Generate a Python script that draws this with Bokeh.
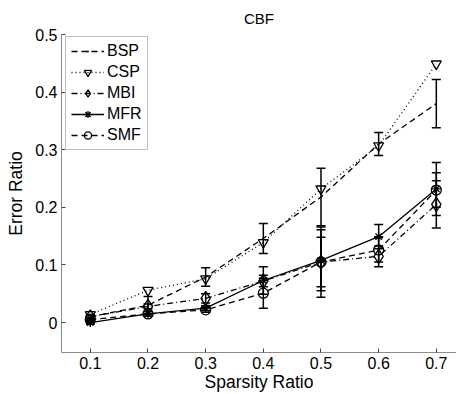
from bokeh.plotting import figure
from bokeh.models import Range1d, ColumnDataSource, Whisker, TeeHead, Legend, LegendItem, FixedTicker
from bokeh.embed import file_html
from bokeh.resources import INLINE

sparsity = [0.1, 0.2, 0.3, 0.4, 0.5, 0.6, 0.7]

bsp = [0.010, 0.030, 0.079, 0.146, 0.218, 0.310, 0.380]
csp = [0.014, 0.056, 0.076, 0.139, 0.232, 0.307, 0.449]
mbi = [0.010, 0.028, 0.042, 0.072, 0.105, 0.115, 0.205]
mfr = [0.000, 0.015, 0.025, 0.073, 0.108, 0.149, 0.232]
smf = [0.005, 0.015, 0.022, 0.051, 0.105, 0.126, 0.230]

bsp_err = [0.004, 0.015, 0.016, 0.026, 0.050, 0.020, 0.042]
csp_err = [0.0, 0.0, 0.0, 0.0, 0.0, 0.0, 0.0]
mbi_err = [0.003, 0.004, 0.008, 0.010, 0.061, 0.018, 0.041]
mfr_err = [0.003, 0.004, 0.004, 0.024, 0.053, 0.021, 0.046]
smf_err = [0.003, 0.004, 0.004, 0.026, 0.043, 0.021, 0.030]

FONT = "Liberation Sans"

p = figure(frame_width=395, frame_height=318, output_backend="svg", toolbar_location=None,
           x_range=Range1d(0.05, 0.735), y_range=Range1d(-0.052, 0.5),
           min_border_left=61, min_border_right=0, min_border_top=29, min_border_bottom=40,
           title="CBF")
p.title.align = "center"
p.title.text_font = FONT
p.title.text_font_size = "15px"
p.title.text_font_style = "normal"
p.title.text_color = "black"
p.title.standoff = 15
p.outline_line_color = None
p.xgrid.visible = False
p.ygrid.visible = False

for ax in (p.xaxis[0], p.yaxis[0]):
    ax.axis_line_color = "#8c8c8c"
    ax.major_tick_line_color = "#444444"
    ax.major_tick_in = 4
    ax.major_tick_out = 0
    ax.minor_tick_line_color = None
    ax.major_label_text_font = FONT
    ax.major_label_text_font_size = "16px"
    ax.major_label_text_color = "black"
    ax.axis_label_text_font = FONT
    ax.axis_label_text_font_size = "17.5px"
    ax.axis_label_text_font_style = "normal"
    ax.axis_label_text_color = "black"

p.xaxis.ticker = FixedTicker(ticks=sparsity)
p.yaxis.ticker = FixedTicker(ticks=[0, 0.1, 0.2, 0.3, 0.4, 0.5])
p.xaxis.axis_label = "Sparsity Ratio"
p.yaxis.axis_label = "Error Ratio"
p.xaxis.major_label_standoff = 4
p.xaxis.axis_label_standoff = 0
p.yaxis.major_label_standoff = 4
p.yaxis.axis_label_standoff = 6

series = [
    ("BSP", bsp, bsp_err, "6 4", "dot"),
    ("CSP", csp, csp_err, "1 3", "inverted_triangle"),
    ("MBI", mbi, mbi_err, "6 3 1 3", "diamond"),
    ("MFR", mfr, mfr_err, "solid", "asterisk"),
    ("SMF", smf, smf_err, "6 4", "circle"),
]
sizes = {"dot": 6, "inverted_triangle": 10, "diamond": 14, "asterisk": 9, "circle": 10}

items = []
for name, vals, errs, dash, marker in series:
    upper = [v + e for v, e in zip(vals, errs)]
    lower = [v - e for v, e in zip(vals, errs)]
    src = ColumnDataSource(dict(x=sparsity, y=vals))
    ln = p.line("x", "y", source=src, line_color="black", line_width=1.3, line_dash=dash)
    mk = p.scatter("x", "y", source=src, marker=marker, size=sizes[marker],
                   line_color="black", fill_color="black" if marker == "dot" else None,
                   line_width=1.3)
    if any(e > 0 for e in errs):
        esrc = ColumnDataSource(dict(
            x=[x for x, e in zip(sparsity, errs) if e > 0],
            upper=[u for u, e in zip(upper, errs) if e > 0],
            lower=[l for l, e in zip(lower, errs) if e > 0]))
        w = Whisker(source=esrc, base="x", upper="upper", lower="lower",
                    line_color="black", line_width=1.5,
                    upper_head=TeeHead(size=9, line_color="black", line_width=1.5),
                    lower_head=TeeHead(size=9, line_color="black", line_width=1.5))
        p.add_layout(w)
    items.append(LegendItem(label=name, renderers=[ln, mk]))

legend = Legend(items=items, location=(4, 202), orientation="vertical",
                label_text_font=FONT, label_text_font_size="16px", label_text_color="black",
                glyph_width=33, glyph_height=18, label_height=18, label_standoff=3,
                spacing=3, padding=5, margin=0,
                border_line_color="#808080", border_line_width=1,
                background_fill_color="white", background_fill_alpha=1)
p.add_layout(legend, "center")

open("out.html", "w").write(file_html(p, INLINE))
